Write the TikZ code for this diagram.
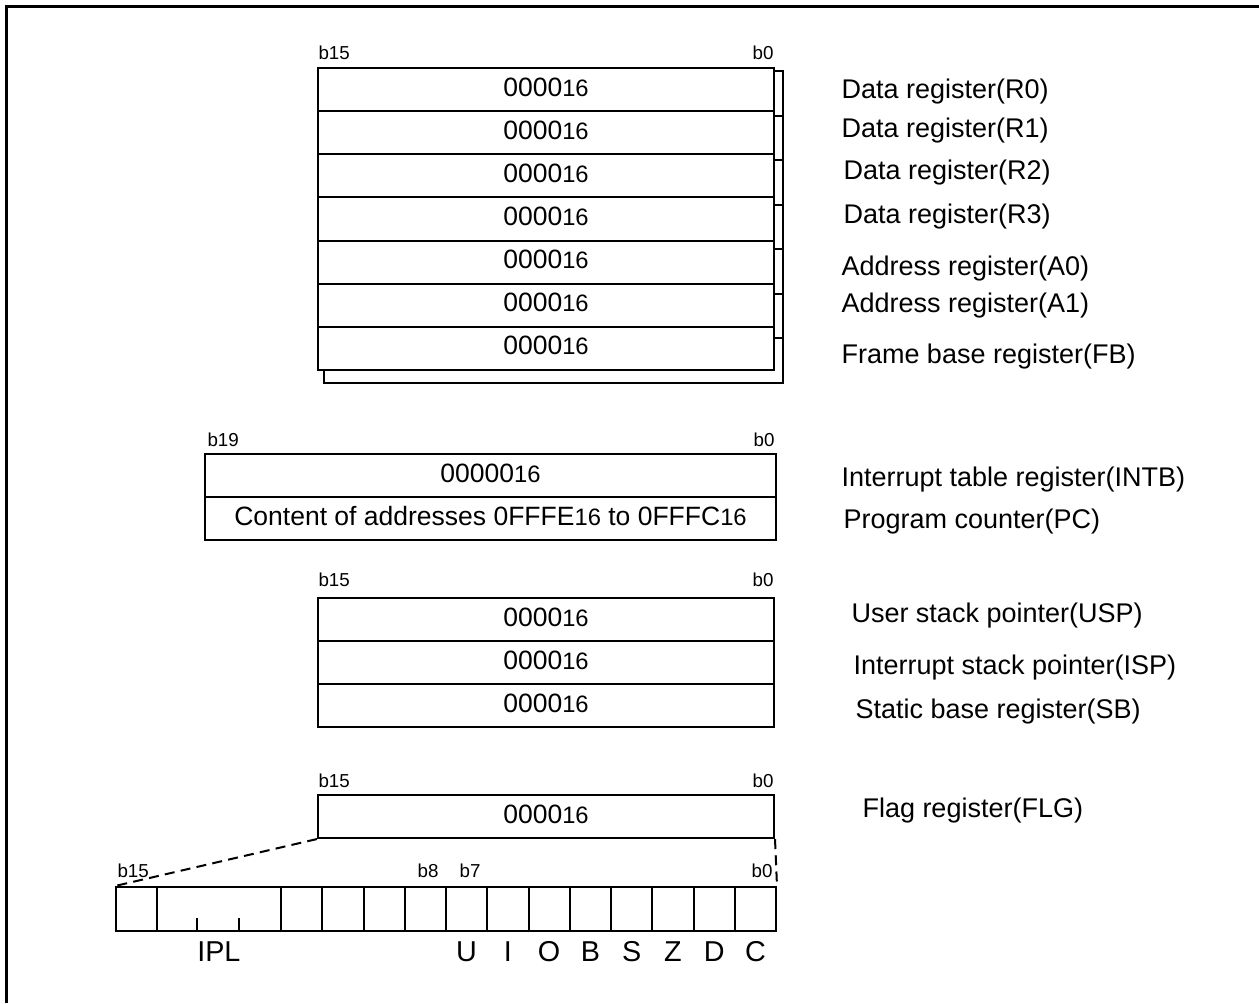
\documentclass[tikz,border=0pt]{standalone}
\usepackage{fontspec}
\setmainfont{Liberation Sans}
\usepackage{tikz}

\newcommand{\hexval}[1]{#1{\fontsize{9.5}{10}\selectfont 16}}

\tikzset{
    regrow/.style={draw, line width=0.8pt, fill=white, inner sep=0pt,
        minimum width=182.4pt, minimum height=17.2pt,
        text height=7.8pt, text depth=2.6pt,
        font=\fontsize{10.6}{12}\selectfont},
    widerow/.style={regrow, minimum width=228.4pt},
    bitcell/.style={draw, line width=0.8pt, inner sep=0pt,
        minimum width=16.5pt, minimum height=17.6pt},
    reglbl/.style={anchor=west, inner sep=0pt, font=\fontsize{10.8}{13}\selectfont},
    bitlbl/.style={inner sep=0pt, font=\fontsize{7.5}{9}\selectfont},
    flaglbl/.style={inner sep=0pt, font=\fontsize{11.5}{13}\selectfont}
}

\begin{document}
\begin{tikzpicture}[x=0.4pt, y=-0.4pt]
    \useasboundingbox (0,0) rectangle (1259,1003);
    % outer frame
    \draw[line width=1.2pt] (6,1003) -- (6,6) -- (1259,6);

    % register bank (back copy)
    \draw[line width=0.8pt] (324,71) rectangle (783,383);
    \foreach \y in {116,160,205,249,294,338}
        \draw[line width=0.8pt] (700,\y) -- (783,\y);

    % register bank (front copy)
    \foreach \i in {0,...,6}
        \node[regrow, minimum height=17.26pt] (r\i) at (546,{68+43.14*(\i+0.5)}) {\hexval{0000}};
    \node[bitlbl, anchor=west] at (318,53) {b15};
    \node[bitlbl, anchor=east] at (774,53) {b0};
    \foreach \lx/\ly/\txt in {841/92/Data register(R0), 841/131/Data register(R1),
            843/173/Data register(R2), 843/217/Data register(R3),
            841/269/Address register(A0), 841/306/Address register(A1),
            841/357/Frame base register(FB)}
        \node[reglbl] at (\lx,\ly) {\txt};

    % INTB and PC
    \node[widerow] (intb) at (490.5,475.5) {\hexval{00000}};
    \node[widerow] (pc) at (490.5,518.5) {Content of addresses \hexval{0FFFE} to \hexval{0FFFC}};
    \node[bitlbl, anchor=west] at (207,440) {b19};
    \node[bitlbl, anchor=east] at (775,440) {b0};
    \node[reglbl] at (841,479) {Interrupt table register(INTB)};
    \node[reglbl] at (843,521) {Program counter(PC)};

    % USP, ISP, SB
    \node[regrow] (usp) at (546,619.5) {\hexval{0000}};
    \node[regrow] (isp) at (546,662.5) {\hexval{0000}};
    \node[regrow] (sb) at (546,705.5) {\hexval{0000}};
    \node[bitlbl, anchor=west] at (318,580) {b15};
    \node[bitlbl, anchor=east] at (774,580) {b0};
    \node[reglbl] at (851,615) {User stack pointer(USP)};
    \node[reglbl] at (853,667) {Interrupt stack pointer(ISP)};
    \node[reglbl] at (855,711) {Static base register(SB)};

    % FLG
    \node[regrow] (flg) at (546,816.5) {\hexval{0000}};
    \node[bitlbl, anchor=west] at (318,781) {b15};
    \node[bitlbl, anchor=east] at (774,781) {b0};
    \node[reglbl] at (862,810) {Flag register(FLG)};

    % flag bits
    \foreach \b in {15,11,10,9,8,7,6,5,4,3,2,1,0}
        \node[bitcell] (bit\b) at ({136.625+41.25*(15-\b)},909) {};
    \node[bitcell, minimum width=49.5pt] (ipl) at (218.875,909) {};
    \draw[line width=0.8pt] (ipl.south west) ++(41.25,0) -- ++(0,-14);
    \draw[line width=0.8pt] (ipl.south west) ++(82.5,0) -- ++(0,-14);
    \node[flaglbl] at (ipl |- 0,952) {IPL};
    \foreach \b/\f in {7/U,6/I,5/O,4/B,3/S,2/Z,1/D,0/C}
        \node[flaglbl] at (bit\b |- 0,952) {\f};
    \node[bitlbl, anchor=west] at (117,871) {b15};
    \node[bitlbl] at (428,871) {b8};
    \node[bitlbl] at (470,871) {b7};
    \node[bitlbl, anchor=east] at (773,871) {b0};

    % expansion lines
    \draw[line width=0.8pt, dash pattern=on 4pt off 2.5pt] (flg.south west) -- (bit15.north west);
    \draw[line width=0.8pt, dash pattern=on 4pt off 2.5pt] (flg.south east) -- (bit0.north east);
\end{tikzpicture}
\end{document}
